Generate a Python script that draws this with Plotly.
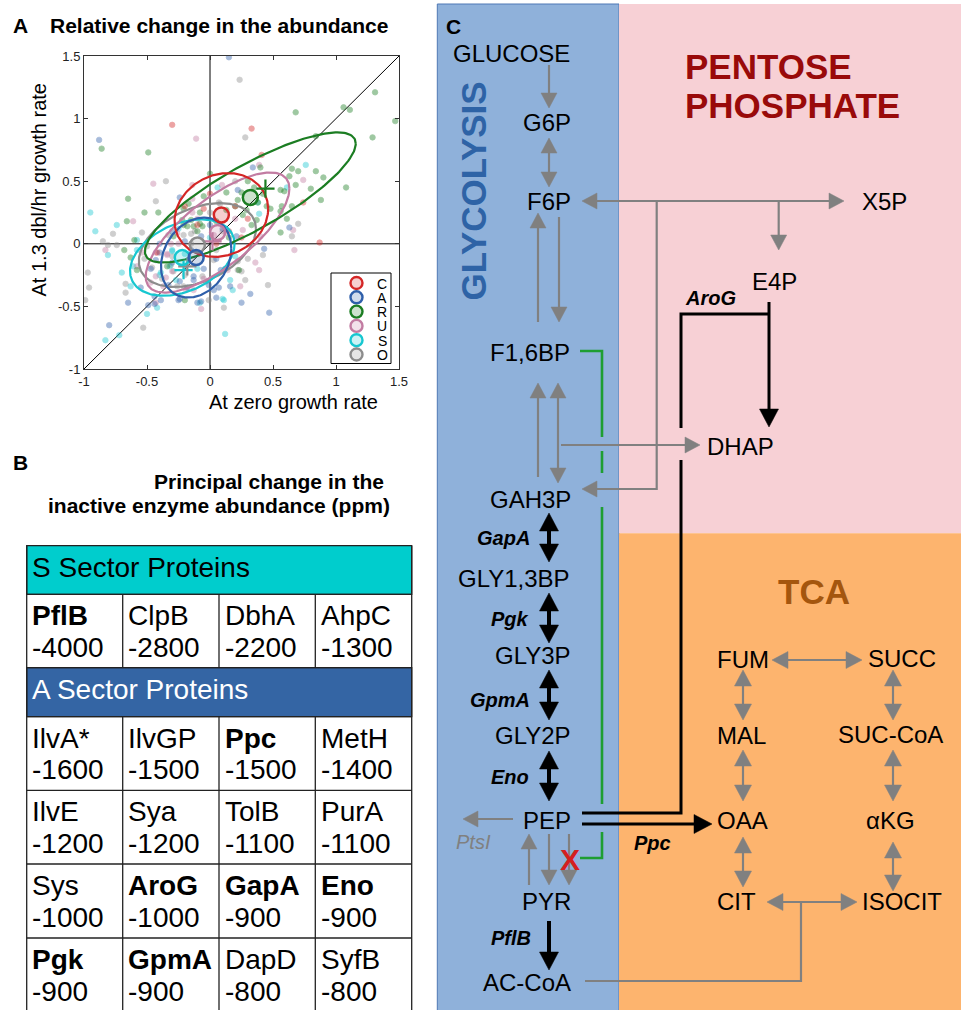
import math
import numpy as np
import plotly.graph_objects as go

W, H = 961, 1010
FONT = "Liberation Sans, Arial, Helvetica, sans-serif"

# ---------------- Panel A data ----------------
groups = ["C", "A", "R", "U", "S", "O"]
group_colors = ["#D42626", "#2F5FAA", "#1B7D22", "#C27CA2", "#17C7D0", "#8C8C8C"]

C_points = [(-0.30, 0.95), (0.33, 0.92), (0.41, 0.71), (0.74, 0.33), (0.87, 0.01), (-0.42, -0.07),
            (0.00, 0.40), (0.20, 0.30), (-0.10, 0.15), (0.15, 0.10), (0.30, 0.20), (-0.20, 0.30),
            (0.05, 0.00), (-0.05, 0.28), (0.25, 0.05)]
A_points = [(0.15, 1.49), (-0.88, 0.83), (0.22, 0.43), (-0.24, 0.37), (0.34, 0.61), (-0.65, -0.47),
            (-0.49, -0.49), (-0.44, -0.48), (-0.39, -0.45), (-0.80, -0.65), (-0.10, -0.47), (0.05, -0.43),
            (-0.25, -0.45), (0.21, 0.06), (0.16, -0.34), (0.63, 0.13), (0.43, -0.04), (0.32, -0.40),
            (0.25, -0.47), (0.47, -0.55), (-0.07, -0.46), (0.07, -0.35), (-0.24, -0.44), (-0.44, -0.42),
            (-0.47, -0.20), (-0.40, 0.00), (-0.07, 0.06), (-0.24, -0.30), (-0.18, -0.35), (-0.13, -0.26),
            (-0.01, -0.33), (-0.43, -0.13), (-0.30, -0.15), (-0.05, -0.20), (-0.15, -0.05), (0.10, 0.12),
            (-0.30, 0.10), (0.00, 0.15), (0.12, -0.20), (-0.55, -0.35), (0.05, -0.12), (-0.20, 0.02),
            (-0.13, -0.29), (-0.33, -0.33), (0.03, -0.37), (0.085, -0.21), (-0.40, -0.07)]
R_points = [(-0.86, 0.76), (-0.49, 0.73), (-0.65, 0.36), (-0.52, 0.25), (-0.41, 0.25), (0.00, 0.56),
            (0.13, 0.41), (0.25, 0.41), (0.22, 0.35), (-0.17, 0.32), (-0.21, 0.28), (-0.05, 0.38),
            (-0.08, 0.25), (1.31, 1.21), (1.06, 1.09), (1.11, 1.07), (1.47, 0.98), (0.68, 1.05),
            (1.29, 0.85), (0.84, 0.86), (0.40, 0.61), (0.65, 0.60), (0.70, 0.58), (0.84, 0.58),
            (0.90, 0.53), (0.68, 0.47), (0.59, 0.42), (0.80, 0.44), (1.08, 0.45), (0.88, 0.35),
            (0.56, 0.26), (0.65, 0.30), (0.56, 0.43), (0.63, 0.54), (-0.66, 0.18), (-0.68, -0.05),
            (-0.63, -0.11), (-0.60, 0.03), (-0.58, -0.21), (-0.29, 0.06), (-0.18, 0.14), (-0.22, 0.19),
            (-0.15, 0.19), (-0.08, 0.16), (0.13, 0.27), (0.20, 0.30), (0.29, 0.27), (0.33, 0.15),
            (0.26, 0.23), (0.37, 0.19), (0.56, 0.09), (0.61, 0.20), (0.57, 0.30), (0.23, -0.21),
            (-0.20, -0.45), (0.45, 0.30), (0.35, 0.45), (0.30, 0.50), (0.42, 0.40), (0.05, 0.18),
            (-0.10, 0.10), (0.15, 0.05), (0.38, 0.33), (0.48, 0.28), (-0.21, 0.15), (-0.13, 0.14),
            (-0.06, 0.14), (-0.34, -0.18)]
U_points = [(-0.11, 0.84), (-0.45, 0.48), (-0.14, 0.36), (-0.14, 0.47), (-0.14, 0.25), (0.095, 0.47),
            (0.39, 0.63), (0.74, 0.51), (-0.61, 0.18), (-0.83, -0.05), (-0.58, -0.18), (-0.07, -0.52),
            (0.24, -0.34), (0.66, 0.11), (0.67, -0.05), (0.36, -0.15), (0.39, -0.21), (0.26, 0.11),
            (-0.19, -0.37), (-0.37, -0.34), (-0.43, -0.47), (-0.47, -0.31), (-0.43, -0.07), (-0.34, -0.08),
            (-0.10, 0.20), (0.03, 0.07), (0.13, 0.09), (0.40, 0.06), (-0.25, 0.00), (0.20, 0.20),
            (-0.30, -0.22), (-0.05, -0.28), (-0.26, 0.085), (-0.31, 0.00), (-0.35, -0.27), (-0.03, -0.30),
            (-0.13, -0.37), (0.14, -0.21), (-0.34, -0.09), (-0.43, -0.26), (-0.54, -0.07)]
S_points = [(-0.95, 0.25), (0.06, 0.45), (0.76, 0.63), (0.61, 0.45), (0.38, 0.33), (0.39, 0.24),
            (-0.74, 0.15), (-0.91, 0.10), (-0.81, -0.09), (-0.58, 0.03), (-0.70, -0.23), (-0.63, -0.34),
            (-0.50, -0.56), (-0.42, -0.51), (-0.72, -0.73), (-0.83, -0.77), (0.12, -0.72), (0.11, -0.45),
            (0.18, -0.37), (0.10, -0.44), (-0.08, -0.47), (-0.61, -0.18), (-0.32, -0.18), (-0.20, -0.08),
            (-0.30, -0.05), (-0.10, -0.20), (0.00, 0.05), (-0.25, 0.12), (0.20, -0.10), (-0.40, -0.25),
            (-0.30, -0.06), (-0.27, -0.29), (0.16, -0.29), (-0.39, -0.23), (-0.58, -0.05)]
O_points = [(0.235, 1.31), (-0.35, 0.50), (-0.43, 0.34), (0.00, 0.25), (0.20, 0.50), (0.07, 0.33),
            (0.28, 0.85), (-0.77, 0.08), (-0.85, 0.02), (-0.81, -0.01), (-0.74, -0.01), (-0.54, 0.09),
            (-0.97, -0.23), (-0.96, -0.35), (-0.67, -0.32), (-0.67, -0.39), (-0.99, -0.45), (-0.53, -0.67),
            (-0.01, -0.45), (0.11, -0.51), (0.22, -0.21), (0.70, 0.16), (0.65, 0.06), (0.42, -0.09),
            (0.30, -0.12), (0.25, -0.22), (0.28, -0.29), (0.46, -0.33), (0.22, -0.14), (-0.26, -0.34),
            (-0.38, -0.28), (-0.52, -0.12), (-0.12, 0.10), (0.08, 0.32), (-0.20, -0.25), (-0.30, -0.10),
            (0.05, -0.05), (-0.15, 0.00), (0.10, 0.10), (-0.33, 0.07), (-0.21, 0.07), (-0.15, 0.08),
            (-0.31, -0.17), (-0.29, -0.22), (-0.06, -0.26), (-0.21, -0.34), (0.03, -0.13), (-0.46, -0.19),
            (-0.50, -0.02)]
group_points = [C_points, A_points, R_points, U_points, S_points, O_points]

# group means (big circles) and ellipse covariances
mean_x = [0.09, -0.11, 0.32, 0.06, -0.22, -0.10]
mean_y = [0.23, -0.11, 0.37, 0.09, -0.11, -0.01]
cov_xx = [0.138, 0.078, 0.70, 0.325, 0.172, 0.216]
cov_yy = [0.112, 0.102, 0.27, 0.23, 0.093, 0.112]
cov_xy = [0.018, 0.020, 0.36, 0.20, 0.045, 0.060]
# medians on the diagonal (+ markers): groups R, U, S, O
plus_groups = ["R", "U", "S", "O"]
plus_val = [0.44, 0.02, -0.21, -0.18]

tick_vals = [-1, -0.5, 0, 0.5, 1, 1.5]
tick_text = ["-1", "-0.5", "0", "0.5", "1", "1.5"]

# ---------------- Panel B data ----------------
S_names = ["PflB", "ClpB", "DbhA", "AhpC"]
S_values = [-4000, -2800, -2200, -1300]
A_names = ["IlvA*", "IlvGP", "Ppc", "MetH", "IlvE", "Sya", "TolB", "PurA",
           "Sys", "AroG", "GapA", "Eno", "Pgk", "GpmA", "DapD", "SyfB"]
A_values = [-1600, -1500, -1500, -1400, -1200, -1200, -1100, -1100,
            -1000, -1000, -900, -900, -900, -900, -800, -800]

# ---------------- Panel C labels ----------------
metabolites = ["GLUCOSE", "G6P", "F6P", "X5P", "E4P", "F1,6BP", "DHAP", "GAH3P", "GLY1,3BP",
               "GLY3P", "GLY2P", "PEP", "PYR", "AC-CoA", "FUM", "SUCC", "MAL", "SUC-CoA",
               "OAA", "αKG", "CIT", "ISOCIT"]
enzymes = ["AroG", "GapA", "Pgk", "GpmA", "Eno", "Ppc", "PflB"]

# ---------------- layout geometry (pixels) ----------------
metab_pos = [(511.7, 53), (547, 122), (549, 201), (884.5, 201), (774.5, 281), (530.3, 352),
             (740.3, 446), (530, 499), (514, 578), (533, 655.5), (533, 735.5), (547, 820),
             (546.5, 901), (527, 982), (742.8, 659), (901.5, 658), (741.7, 735.5), (890.7, 734),
             (742.8, 820), (890.8, 820), (736, 901), (902, 901)]
enzyme_pos = [(710, 298), (503.3, 537.5), (509.5, 619), (500, 700), (510, 776.5), (652.8, 842.5), (511, 938)]

fig = go.Figure()
shapes = []
anns = []


def rgba(h, a):
    h = h.lstrip("#")
    r, g, b = int(h[0:2], 16), int(h[2:4], 16), int(h[4:6], 16)
    return f"rgba({r},{g},{b},{a})"


def ann(x, y, text, size, color="black", xanchor="center", yanchor="middle", angle=0):
    anns.append(dict(x=x, y=y, xref="x2", yref="y2", text=text, showarrow=False,
                     font=dict(family=FONT, size=size, color=color),
                     xanchor=xanchor, yanchor=yanchor, textangle=angle))


def seg(x0, y0, x1, y1, color, width):
    shapes.append(dict(type="line", xref="x2", yref="y2", x0=x0, y0=y0, x1=x1, y1=y1,
                       line=dict(color=color, width=width)))


def poly(pts, color, width):
    path = "M " + " L ".join(f"{x},{y}" for x, y in pts)
    shapes.append(dict(type="path", xref="x2", yref="y2", path=path,
                       line=dict(color=color, width=width)))


def head(tx, ty, ux, uy, L, Wd, color):
    bx, by = tx - ux * L, ty - uy * L
    px, py = -uy, ux
    path = (f"M {tx},{ty} L {bx + px * Wd / 2},{by + py * Wd / 2} "
            f"L {bx - px * Wd / 2},{by - py * Wd / 2} Z")
    shapes.append(dict(type="path", xref="x2", yref="y2", path=path, fillcolor=color,
                       line=dict(color=color, width=0.5)))


def arrow(x0, y0, x1, y1, color, width, L, Wd, both=False):
    dx, dy = x1 - x0, y1 - y0
    n = math.hypot(dx, dy)
    ux, uy = dx / n, dy / n
    sx, sy = (x0 + ux * (L - 2), y0 + uy * (L - 2)) if both else (x0, y0)
    ex, ey = x1 - ux * (L - 2), y1 - uy * (L - 2)
    seg(sx, sy, ex, ey, color, width)
    head(x1, y1, ux, uy, L, Wd, color)
    if both:
        head(x0, y0, -ux, -uy, L, Wd, color)


# ================= Panel A =================
t = np.linspace(0, 2 * np.pi, 200)
draw_order = [5, 4, 3, 2, 1, 0]
for i in draw_order:
    pts = group_points[i]
    fig.add_trace(go.Scatter(x=[p[0] for p in pts], y=[p[1] for p in pts], mode="markers",
                             marker=dict(size=5.5, color=group_colors[i], opacity=0.42,
                                         line=dict(color=group_colors[i], width=0.8)),
                             hoverinfo="skip", xaxis="x", yaxis="y"))
for i in draw_order:
    S = np.array([[cov_xx[i], cov_xy[i]], [cov_xy[i], cov_yy[i]]])
    Lc = np.linalg.cholesky(S)
    circ = np.vstack([np.cos(t), np.sin(t)])
    e = Lc @ circ
    fig.add_trace(go.Scatter(x=mean_x[i] + e[0], y=mean_y[i] + e[1], mode="lines",
                             line=dict(color=group_colors[i], width=2.2),
                             hoverinfo="skip", xaxis="x", yaxis="y"))
for gname, v in zip(plus_groups, plus_val):
    c = group_colors[groups.index(gname)]
    fig.add_trace(go.Scatter(x=[v], y=[v], mode="markers",
                             marker=dict(symbol="cross-thin", size=13, color=c,
                                         line=dict(color=c, width=2.2)),
                             hoverinfo="skip", xaxis="x", yaxis="y"))
for i in draw_order:
    fig.add_trace(go.Scatter(x=[mean_x[i]], y=[mean_y[i]], mode="markers",
                             marker=dict(size=15, color=rgba(group_colors[i], 0.22),
                                         line=dict(color=group_colors[i], width=2.5)),
                             hoverinfo="skip", xaxis="x", yaxis="y"))

for (x0, y0, x1, y1) in [(0, -1, 0, 1.5), (-1, 0, 1.5, 0), (-1, -1, 1.5, 1.5)]:
    shapes.append(dict(type="line", xref="x", yref="y", x0=x0, y0=y0, x1=x1, y1=y1,
                       line=dict(color="black", width=1), layer="below"))

ann(20, 25, "<b>A</b>", 21)
ann(47.5, 25, "<b>Relative change in the abundance</b>", 21, xanchor="left")
ann(293.5, 402, "At zero growth rate", 20)
ann(38, 190.5, "At 1.3 dbl/hr growth rate", 20, angle=-90)

shapes.append(dict(type="rect", xref="x2", yref="y2", x0=331, y0=273, x1=391, y1=363.5,
                   line=dict(color="black", width=1), fillcolor="white"))
leg_y = [283, 297.3, 311.6, 325.9, 340.2, 354.5]
for i, g in enumerate(groups):
    shapes.append(dict(type="circle", xref="x2", yref="y2", x0=350.5, y0=leg_y[i] - 6,
                       x1=362.5, y1=leg_y[i] + 6, fillcolor=rgba(group_colors[i], 0.22),
                       line=dict(color=group_colors[i], width=2.4)))
    ann(382, leg_y[i] + 0.5, g, 14)

# ================= Panel B =================
ann(20, 462, "<b>B</b>", 21)
ann(392, 481.5, "<b>Principal change in the </b>", 21, xanchor="right")
ann(392, 505, "<b>inactive enzyme abundance (ppm)</b>", 21, xanchor="right")

col_x = [26.7, 122.7, 219, 315.3, 411.7]
row_edges = [545.7, 594.3, 667.7, 716.7, 790.3, 864, 938, 1012]
shapes.append(dict(type="rect", xref="x2", yref="y2", x0=col_x[0], y0=row_edges[0],
                   x1=col_x[-1], y1=row_edges[1], fillcolor="#00CDCD",
                   line=dict(color="#222", width=1.3)))
shapes.append(dict(type="rect", xref="x2", yref="y2", x0=col_x[0], y0=row_edges[2],
                   x1=col_x[-1], y1=row_edges[3], fillcolor="#3465A4",
                   line=dict(color="#222", width=1.3)))
for y in row_edges[1:7]:
    seg(col_x[0], y, col_x[-1], y, "#222", 1.3)
for x in [col_x[0], col_x[-1]]:
    seg(x, row_edges[0], x, row_edges[-1], "#222", 1.3)
for x in col_x[1:-1]:
    seg(x, row_edges[1], x, row_edges[2], "#222", 1.3)
    seg(x, row_edges[3], x, row_edges[-1], "#222", 1.3)

ann(col_x[0] + 3.5, 567, "S Sector Proteins", 28, xanchor="left")
ann(col_x[0] + 3.5, 689.5, "A Sector Proteins", 28, color="white", xanchor="left")


def cell(name, val, col, top):
    txt = f"<b>{name}</b>" if name in enzymes else name
    ann(col_x[col] + 3.5, top + 21.5, txt, 28, xanchor="left")
    ann(col_x[col] + 3.5, top + 53, str(val), 28, xanchor="left")


for j, (nm, v) in enumerate(zip(S_names, S_values)):
    cell(nm, v, j, row_edges[1])
for k, (nm, v) in enumerate(zip(A_names, A_values)):
    r, c = divmod(k, 4)
    cell(nm, v, c, row_edges[3 + r])

# ================= Panel C =================
shapes.insert(0, dict(type="rect", xref="x2", yref="y2", x0=619, y0=533.3, x1=962, y1=1012,
                      fillcolor="#FDB46E", line=dict(width=0)))
shapes.insert(0, dict(type="rect", xref="x2", yref="y2", x0=619, y0=4, x1=962, y1=533.3,
                      fillcolor="#F7D0D5", line=dict(width=0)))
shapes.insert(0, dict(type="rect", xref="x2", yref="y2", x0=437.3, y0=4, x1=619, y1=1012,
                      fillcolor="#8FB1DA", line=dict(color="#4F79B5", width=1)))

GRAY = "#808080"
GL, GW, GLW = 15, 16, 2.2
arrow(549, 65, 549, 108, GRAY, GLW, GL, GW)
arrow(549, 138, 549, 187, GRAY, GLW, GL, GW, both=True)
arrow(582, 201, 844, 201, GRAY, GLW, GL, GW, both=True)
poly([(656.7, 201), (656.7, 489), (582 + GL - 2, 489)], GRAY, GLW)
head(582, 489, -1, 0, GL, GW, GRAY)
arrow(778.7, 201, 778.7, 250, GRAY, GLW, GL, GW)
arrow(559, 217, 559, 322, GRAY, GLW, GL, GW)
arrow(538, 322, 538, 213, GRAY, GLW, GL, GW)
arrow(538, 477, 538, 383, GRAY, GLW, GL, GW)
arrow(558, 383, 558, 483, GRAY, GLW, GL, GW, both=True)
arrow(561, 445, 700, 445, GRAY, GLW, GL, GW)
arrow(513, 819, 463, 819, GRAY, GLW, GL, GW)
arrow(529, 885, 529, 834, GRAY, GLW, GL, GW)
arrow(549, 834, 549, 885, GRAY, GLW, GL, GW)
arrow(569, 834, 569, 885, GRAY, GLW, GL, GW)
TL, TW = 16, 17
arrow(772, 660, 862, 660, GRAY, GLW, TL, TW, both=True)
arrow(743, 670, 743, 720, GRAY, GLW, TL, TW, both=True)
arrow(743, 750, 743, 801, GRAY, GLW, TL, TW, both=True)
arrow(743, 837, 743, 887, GRAY, GLW, TL, TW, both=True)
arrow(893, 670, 893, 720, GRAY, GLW, TL, TW, both=True)
arrow(893, 750, 893, 801, GRAY, GLW, TL, TW, both=True)
arrow(893, 842, 893, 891, GRAY, GLW, TL, TW, both=True)
arrow(767, 902, 857, 902, GRAY, GLW, TL, TW, both=True)
poly([(585, 981), (801, 981), (801, 902)], GRAY, GLW)

BL, BW, BLW = 18, 19, 4
arrow(549, 513, 549, 562, "black", BLW, BL, BW, both=True)
arrow(549, 593, 549, 643, "black", BLW, BL, BW, both=True)
arrow(549, 670, 549, 720, "black", BLW, BL, BW, both=True)
arrow(549, 751, 549, 801, "black", BLW, BL, BW, both=True)
arrow(549, 921, 549, 970, "black", BLW, BL, BW)
poly([(582, 813), (681, 813), (681, 460)], "black", 3)
poly([(681, 428), (681, 314), (769, 314)], "black", 3)
seg(769, 302, 769, 314, "black", 3)
arrow(769, 314, 769, 427, "black", 3, BL, BW)
arrow(582, 824, 712, 824, "black", 3, BL, BW)

GREEN = "#1E9E32"
poly([(580, 351), (602, 351), (602, 437)], GREEN, 2.6)
seg(602, 451, 602, 473, GREEN, 2.6)
seg(602, 507, 602, 804, GREEN, 2.6)
poly([(602, 832), (602, 858), (580, 858)], GREEN, 2.6)

ann(453, 26, "<b>C</b>", 21)
for name, (x, y) in zip(metabolites, metab_pos):
    ann(x, y, name, 24)
for name, (x, y) in zip(enzymes, enzyme_pos):
    ann(x, y, f"<b><i>{name}</i></b>", 20)
ann(473.3, 841.5, "<i>PtsI</i>", 20, color=GRAY)
ann(570, 859, "<b>X</b>", 30, color="#D42020")
ann(683, 66, "<b>PENTOSE</b>", 35, color="#990A0A", xanchor="left")
ann(683, 105, "<b>PHOSPHATE</b>", 35, color="#990A0A", xanchor="left")
ann(814.3, 591, "<b>TCA</b>", 35, color="#A4560E")
ann(472.5, 191, "<b>GLYCOLYSIS</b>", 35, color="#2E63A6", angle=-90)

# ================= layout =================
axis_common = dict(showgrid=False, zeroline=False, showline=True, linecolor="#333",
                   linewidth=1, mirror="ticks", ticks="inside", ticklen=4, tickcolor="#333",
                   tickfont=dict(family=FONT, size=13, color="#222"), automargin=False,
                   tickvals=tick_vals, ticktext=tick_text, fixedrange=True)
xa = dict(axis_common)
xa.update(range=[-1, 1.5], domain=[84 / W, 399 / W], anchor="y")
ya = dict(axis_common)
ya.update(range=[-1, 1.5], domain=[1 - 369 / H, 1 - 56 / H], anchor="x")

fig.update_layout(
    template="none",
    width=W, height=H, margin=dict(l=0, r=0, t=0, b=0, pad=0, autoexpand=False), autosize=False,
    paper_bgcolor="white", plot_bgcolor="rgba(0,0,0,0)", showlegend=False,
    xaxis=xa, yaxis=ya,
    xaxis2=dict(domain=[0, 1], range=[0, W], visible=False, anchor="y2", fixedrange=True,
                automargin=False),
    yaxis2=dict(domain=[0, 1], range=[H, 0], visible=False, anchor="x2", fixedrange=True,
                automargin=False),
    shapes=shapes, annotations=anns,
    font=dict(family=FONT),
)
fig.add_trace(go.Scatter(x=[0], y=[0], mode="markers", marker=dict(size=1, opacity=0),
                         xaxis="x2", yaxis="y2", hoverinfo="skip"))

fig.write_html("out.html")
